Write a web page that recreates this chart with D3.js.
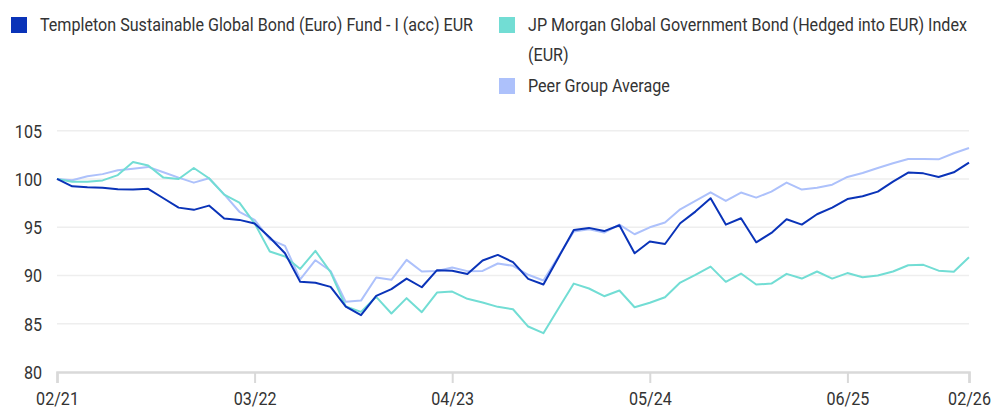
<!DOCTYPE html>
<html lang="en">
  <head>
    <meta charset="UTF-8" />
    <script src="https://d3js.org/d3.v7.min.js"></script>
    <title>Performance</title>
    <style>
      body {
        margin: 0;
        background: #fff;
      }
      svg text {
        font-family: "Roboto", "Liberation Sans", sans-serif;
        fill: #333;
        font-size: 19px;
      }
    </style>
  </head>
  <body>
    <svg id="chart" width="991" height="410"></svg>

    <script>
      // Monthly index values, rebased to 100 at 02/21
      const months = d3
        .timeMonth.range(new Date(2021, 1, 1), new Date(2026, 2, 1))
        .map(d3.timeFormat("%m/%y"));

      const fund = [
        100, 99.24, 99.14, 99.1, 98.93, 98.9, 98.98, 98.0, 97.03, 96.8,
        97.24, 95.9, 95.76, 95.38, 93.93, 92.3, 89.34, 89.25, 88.82, 86.78,
        85.89, 87.89, 88.58, 89.68, 88.78, 90.55, 90.5, 90.15, 91.55, 92.13,
        91.38, 89.65, 89.06, 91.9, 94.72, 94.93, 94.6, 95.2, 92.3, 93.52,
        93.26, 95.41, 96.62, 98.0, 95.27, 95.93, 93.44, 94.41, 95.82, 95.27,
        96.34, 97.03, 97.92, 98.21, 98.69, 99.72, 100.66, 100.58, 100.21, 100.69,
        101.69,
      ];

      const benchmark = [
        100, 99.7, 99.7, 99.85, 100.4, 101.76, 101.4, 100.14, 100.0, 101.14,
        100.07, 98.38, 97.55, 95.4, 92.48, 91.96, 90.68, 92.55, 90.34, 86.78,
        86.23, 87.79, 86.06, 87.65, 86.2, 88.23, 88.33, 87.58, 87.2, 86.75,
        86.5, 84.71, 84.02, 86.6, 89.16, 88.65, 87.85, 88.44, 86.71, 87.18,
        87.75, 89.27, 90.06, 90.92, 89.34, 90.2, 89.06, 89.16, 90.17, 89.68,
        90.41, 89.68, 90.25, 89.82, 90.0, 90.41, 91.06, 91.1, 90.5, 90.38,
        91.89,
      ];

      const peers = [
        100, 99.86, 100.28, 100.5, 100.9, 101.07, 101.25, 100.7, 100.14, 99.62,
        100.07, 98.4, 96.6, 95.76, 93.75, 93.06, 89.6, 91.58, 90.47, 87.27,
        87.4, 89.79, 89.55, 91.62, 90.41, 90.47, 90.82, 90.45, 90.47, 91.24,
        91.0, 90.07, 89.48, 92.0, 94.55, 94.79, 94.45, 95.27, 94.27, 94.99,
        95.49, 96.86, 97.72, 98.62, 97.72, 98.59, 98.07, 98.69, 99.62, 98.9,
        99.1, 99.41, 100.21, 100.62, 101.14, 101.62, 102.07, 102.07, 102.03, 102.66,
        103.21,
      ];

      const tickMonths = ["02/21", "03/22", "04/23", "05/24", "06/25", "02/26"];
      const yTicks = [80, 85, 90, 95, 100, 105];

      const seriesNames = [
        "Templeton Sustainable Global Bond (Euro) Fund - I (acc) EUR",
        "JP Morgan Global Government Bond (Hedged into EUR) Index (EUR)",
        "Peer Group Average",
      ];
      const colors = ["#0a33b8", "#72ddd4", "#adc1fb"];

      const svg = d3.select("#chart");

      const x = d3.scalePoint().domain(months).range([57, 969]);
      const y = d3.scaleLinear().domain([80, 105]).range([372, 130.7]);

      // horizontal grid
      svg
        .append("g")
        .selectAll("line")
        .data(yTicks.filter((d) => d > 80))
        .join("line")
        .attr("x1", 57)
        .attr("x2", 969)
        .attr("y1", (d) => y(d))
        .attr("y2", (d) => y(d))
        .attr("stroke", "#eeeeee")
        .attr("stroke-width", 1.5);

      // y labels
      svg
        .append("g")
        .selectAll("text")
        .data(yTicks)
        .join("text")
        .attr("x", 42)
        .attr("y", (d) => y(d))
        .attr("dy", "0.36em")
        .attr("text-anchor", "end")
        .text((d) => d);

      // x axis
      const xAxis = svg
        .append("g")
        .attr("transform", "translate(0,372)")
        .call(d3.axisBottom(x).tickValues(tickMonths).tickSize(11).tickPadding(9));
      xAxis.attr("font-family", null).attr("font-size", null);
      xAxis.select(".domain").attr("stroke", "#d9d9d9").attr("stroke-width", 2.5);
      xAxis.selectAll(".tick line").attr("stroke", "#d9d9d9").attr("stroke-width", 2);
      xAxis.selectAll(".tick text").attr("fill", null);

      // lines: peers under benchmark under fund
      const line = d3
        .line()
        .x((d, i) => x(months[i]))
        .y((d) => y(d));

      [
        [peers, colors[2]],
        [benchmark, colors[1]],
        [fund, colors[0]],
      ].forEach(([vals, c]) => {
        svg
          .append("path")
          .datum(vals)
          .attr("fill", "none")
          .attr("stroke", c)
          .attr("stroke-width", 2)
          .attr("stroke-linejoin", "round")
          .attr("d", line);
      });

      // legend
      const legend = svg.append("g");
      const legendItems = [
        { x: 11, y: 17, lines: [seriesNames[0]], color: colors[0] },
        {
          x: 499,
          y: 17,
          lines: ["JP Morgan Global Government Bond (Hedged into EUR) Index", "(EUR)"],
          color: colors[1],
        },
        { x: 499, y: 78, lines: [seriesNames[2]], color: colors[2] },
      ];
      legendItems.forEach((it) => {
        legend
          .append("rect")
          .attr("x", it.x)
          .attr("y", it.y)
          .attr("width", 16)
          .attr("height", 16)
          .attr("fill", it.color);
        it.lines.forEach((l, i) => {
          legend
            .append("text")
            .attr("class", i === 0 && it.x === 11 ? "ref" : null)
            .attr("x", it.x + 29)
            .attr("y", it.y + 14 + i * 30)
            .text(l);
        });
      });

      // the reference uses a condensed face; squeeze every label by the same factor
      const refWidth = 433;
      const natural = svg.select("text.ref").node().getComputedTextLength();
      const k = refWidth / natural;
      svg.selectAll("text").each(function () {
        const w = this.getComputedTextLength();
        d3.select(this)
          .attr("textLength", w * k)
          .attr("lengthAdjust", "spacingAndGlyphs");
      });
    </script>
  </body>
</html>
